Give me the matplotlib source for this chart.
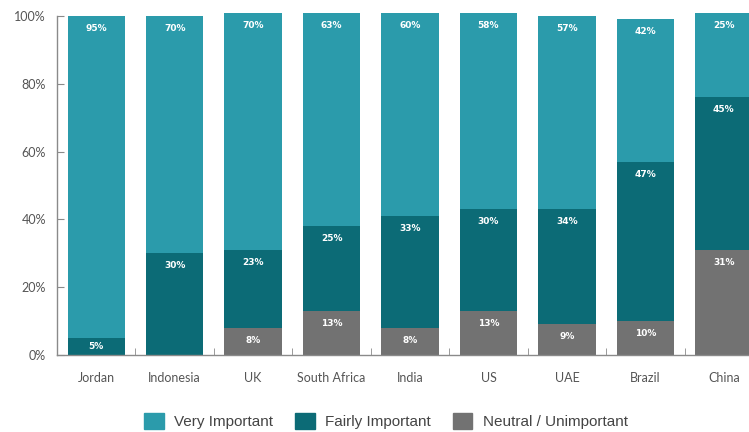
import matplotlib
matplotlib.use("Agg")
import matplotlib.pyplot as plt
from matplotlib.patches import Patch
import numpy as np

countries = ["Jordan", "Indonesia", "UK", "South Africa", "India", "US", "UAE", "Brazil", "China"]
neutral = [0, 0, 8, 13, 8, 13, 9, 10, 31]
fairly = [5, 30, 23, 25, 33, 30, 34, 47, 45]
very = [95, 70, 70, 63, 60, 58, 57, 42, 25]
y_ticks = [0, 20, 40, 60, 80, 100]
legend_labels = ["Very Important", "Fairly Important", "Neutral / Unimportant"]

c_very = "#2b9bab"
c_fairly = "#0c6b76"
c_neutral = "#727272"
axis_grey = "#8a8a8a"
text_grey = "#555555"

fig = plt.figure(figsize=(7.49, 4.32), dpi=100)
ax = fig.add_axes([57 / 749, 1 - 355 / 432, (763 - 57) / 749, (355 - 16) / 432])

x = np.arange(len(countries))
w = 0.73
neutral_a = np.array(neutral)
fairly_a = np.array(fairly)
very_a = np.array(very)

ax.bar(x, neutral_a, w, color=c_neutral, clip_on=False, zorder=2)
ax.bar(x, fairly_a, w, bottom=neutral_a, color=c_fairly, clip_on=False, zorder=2)
ax.bar(x, very_a, w, bottom=neutral_a + fairly_a, color=c_very, clip_on=False, zorder=2)

def label(vals, bottoms):
    for xi, v, b in zip(x, vals, bottoms):
        if v <= 0:
            continue
        top = b + v
        if v <= 6:
            ax.text(xi, b + v / 2, f"{v}%", ha="center", va="center", color="white",
                    fontsize=6.5, fontweight="bold", zorder=3)
        else:
            ax.annotate(f"{v}%", (xi, top), xytext=(0, -9), textcoords="offset points",
                        ha="center", va="center", color="white", fontsize=6.5,
                        fontweight="bold", zorder=3, annotation_clip=False)

label(neutral, np.zeros(len(x)))
label(fairly, neutral_a)
label(very, neutral_a + fairly_a)

ax.set_xlim(-0.5, len(x) - 0.5)
ax.set_ylim(0, 100)
for s in ["top", "right"]:
    ax.spines[s].set_visible(False)
ax.spines["left"].set_color(axis_grey)
ax.spines["bottom"].set_color(axis_grey)
ax.spines["left"].set_linewidth(1.0)
ax.spines["bottom"].set_linewidth(1.0)

ax.set_yticks(y_ticks)
ax.set_yticklabels([f"{t}%" for t in y_ticks], fontsize=9, color=text_grey, family="Lato")
ax.tick_params(axis="y", length=5, direction="in", color=axis_grey, pad=8)

ax.set_xticks(x)
ax.set_xticklabels(countries, fontsize=9, color=text_grey, family="Lato")
ax.tick_params(axis="x", which="major", length=0, pad=12)
ax.set_xticks(x[:-1] + 0.5, minor=True)
ax.tick_params(axis="x", which="minor", direction="in", length=5, color=axis_grey)

handles = [Patch(color=c_very), Patch(color=c_fairly), Patch(color=c_neutral)]
fig.legend(handles, legend_labels, loc="center", bbox_to_anchor=(386 / 749, 1 - 421 / 432),
           ncol=3, frameon=False, prop={"family": "Liberation Sans", "size": 11},
           labelcolor="#444444", handlelength=1.3, handleheight=1.3,
           handletextpad=0.7, columnspacing=1.4)

fig.savefig("out.png", dpi=100, facecolor="white")
